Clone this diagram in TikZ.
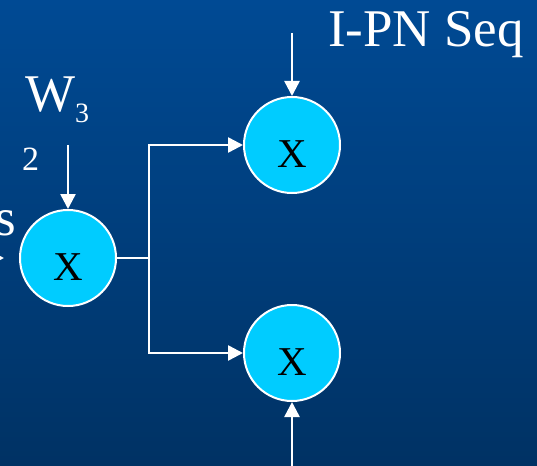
\documentclass[tikz,border=0pt]{standalone}
\usepackage{fontspec}
\setmainfont{Liberation Serif}
\usetikzlibrary{arrows.meta}
\definecolor{bgtop}{HTML}{004A94}
\definecolor{bgbot}{HTML}{003264}
\definecolor{mulcyan}{HTML}{00CCFF}
\begin{document}
\begin{tikzpicture}[x=1pt,y=-1pt,
  mul/.style={circle,draw=white,line width=2pt,fill=mulcyan,minimum size=96pt,inner sep=0pt,
    text height=45pt,text depth=0pt,font=\fontsize{41}{41}\selectfont},
  wire/.style={white,line width=2.5pt,-{Triangle[length=15pt,width=15pt]}},
  lbl/.style={white,inner sep=0pt,font=\fontsize{53}{53}\selectfont}]
\useasboundingbox (0,0) rectangle (537,465);
\shade[top color=bgtop,bottom color=bgbot] (0,0) rectangle (537,465);

\node[mul] (mleft) at (68,258) {X};
\node[mul] (mtop) at (292,145) {X};
\node[mul] (mbot) at (292,353) {X};

\node[lbl,anchor=base west] (ipn) at (328,47) {I-PN Seq};
\node[lbl,anchor=base west] (w3) at (25,112) {W{\fontsize{28}{28}\selectfont\raisebox{-11pt}{3}}};
\node[lbl,anchor=base west,font=\fontsize{34}{34}\selectfont] (two) at (22,170) {2};
\node[lbl,anchor=base east] (s) at (16,235) {s};

\coordinate (intop) at (292,33);
\coordinate (inw) at (68,145);
\coordinate (inbot) at (292,470);
\coordinate (ins) at (-20,258);
\coordinate (ends) at (4,258);

\draw[wire] (intop) -- (mtop);
\draw[wire] (inw) -- (mleft);
\draw[wire] (inbot) -- (mbot);
\draw[wire] (ins) -- (ends);
\draw[wire] (mleft.east) -- ++(32,0) |- (mtop.west);
\draw[wire] (mleft.east) -- ++(32,0) |- (mbot.west);
\end{tikzpicture}
\end{document}
